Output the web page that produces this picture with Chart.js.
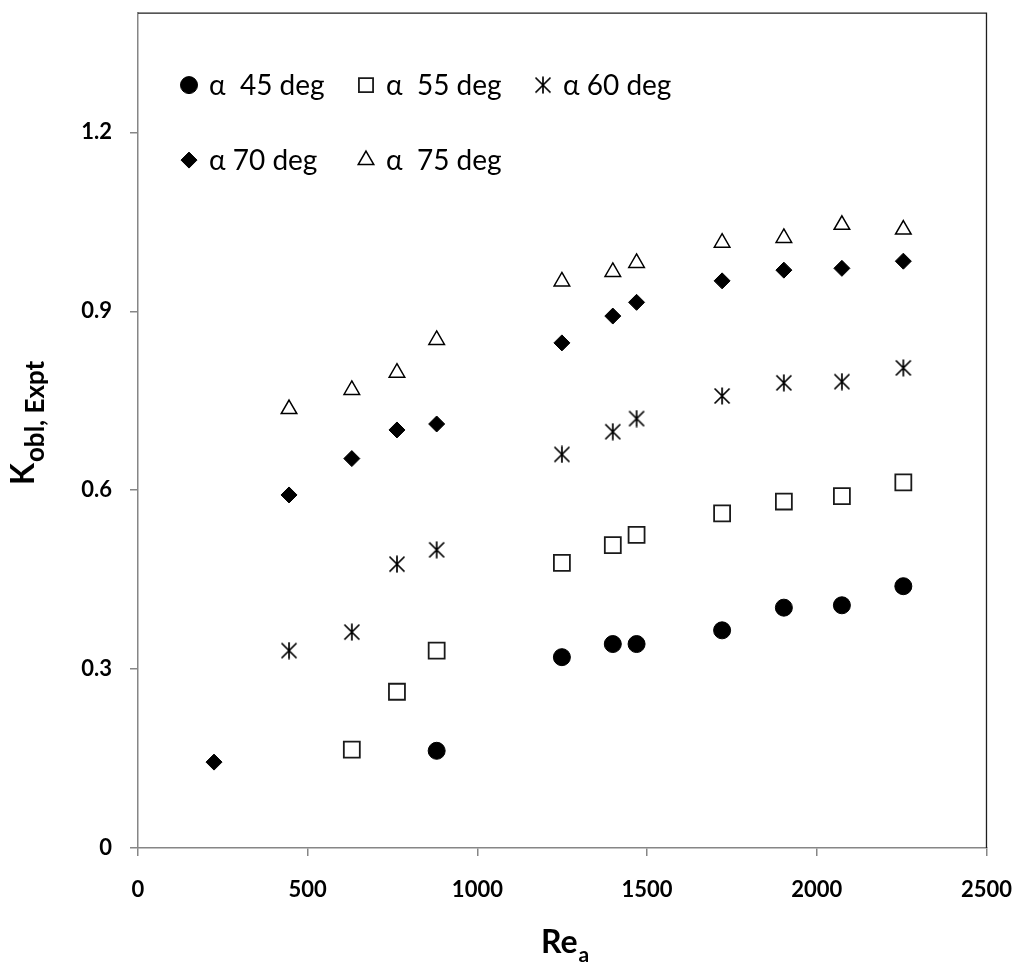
<!DOCTYPE html>
<html>
<head>
<meta charset="utf-8">
<script src="https://cdn.jsdelivr.net/npm/chart.js@4/dist/chart.umd.min.js"></script>
<style>
  html, body { margin: 0; padding: 0; background: #ffffff; }
  #c { display: block; }
</style>
</head>
<body>
<canvas id="c" width="1033" height="972"></canvas>
<script>
// Reynolds numbers shared by all inclination series
const reynolds = [224, 445, 630, 763, 880, 1249, 1399, 1469, 1721, 1903, 2074, 2255];

// Experimental K_obl for each inclination angle (null = not measured)
const k45 = [null, null, null, null, 0.163, 0.320, 0.342, 0.342, 0.365, 0.403, 0.407, 0.439];
const k55 = [null, null, 0.165, 0.262, 0.331, 0.478, 0.508, 0.525, 0.561, 0.581, 0.590, 0.613];
const k60 = [null, 0.331, 0.362, 0.476, 0.500, 0.660, 0.698, 0.720, 0.758, 0.780, 0.782, 0.805];
const k70 = [0.144, 0.592, 0.653, 0.701, 0.711, 0.847, 0.892, 0.915, 0.951, 0.969, 0.972, 0.984];
const k75 = [null, 0.736, 0.768, 0.797, 0.852, 0.950, 0.966, 0.981, 1.015, 1.023, 1.045, 1.037];

const seriesLabels = ['α  45 deg', 'α  55 deg', 'α 60 deg', 'α 70 deg', 'α  75 deg'];

const xTicks = [0, 500, 1000, 1500, 2000, 2500];
const yTicks = [0, 0.3, 0.6, 0.9, 1.2];

const FONT = 'Lato, "Open Sans", sans-serif';
const AXIS_GREY = '#868686';

// Six-armed asterisk marker (vertical bar plus an X)
function asteriskMarker(size, lw) {
  const c = document.createElement('canvas');
  c.width = size; c.height = size;
  const g = c.getContext('2d');
  g.strokeStyle = '#000';
  g.lineWidth = lw;
  g.lineCap = 'butt';
  const m = size / 2, r = size / 2 - 1;
  g.beginPath();
  g.moveTo(m, m - r - 0.5); g.lineTo(m, m + r + 0.5);
  g.moveTo(m - r + 0.5, m - r + 0.5); g.lineTo(m + r - 0.5, m + r - 0.5);
  g.moveTo(m + r - 0.5, m - r + 0.5); g.lineTo(m - r + 0.5, m + r - 0.5);
  g.stroke();
  return c;
}
const asterisk = asteriskMarker(18, 1.7);

function points(ys) {
  return reynolds.map((x, i) => ({ x: x, y: ys[i] })).filter(p => p.y !== null);
}

const markerStyles = [
  { pointStyle: 'circle',   pointRadius: 8.5, pointBackgroundColor: '#000', pointBorderColor: '#000', pointBorderWidth: 1 },
  { pointStyle: 'rect',     pointRadius: 11.3, pointBackgroundColor: '#fff', pointBorderColor: '#1a1a1a', pointBorderWidth: 1.8 },
  { pointStyle: asterisk,   pointRadius: 9,  pointBackgroundColor: '#000', pointBorderColor: '#000', pointBorderWidth: 0 },
  { pointStyle: 'rectRot',  pointRadius: 8,  pointBackgroundColor: '#000', pointBorderColor: '#000', pointBorderWidth: 1 },
  { pointStyle: 'triangle', pointRadius: 9,  pointBackgroundColor: '#fff', pointBorderColor: '#000', pointBorderWidth: 1.5 }
];

const seriesValues = [k45, k55, k60, k70, k75];

const datasets = seriesValues.map((ys, i) => Object.assign({
  label: seriesLabels[i],
  data: points(ys),
  showLine: false
}, markerStyles[i]));

// Top and right frame lines of the plot box
const frame = {
  id: 'frame',
  afterDraw(chart) {
    const { ctx, chartArea: a } = chart;
    ctx.save();
    ctx.strokeStyle = '#1e1e1e';
    ctx.lineWidth = 1.3;
    ctx.beginPath();
    ctx.moveTo(a.left, a.top);
    ctx.lineTo(a.right, a.top);
    ctx.lineTo(a.right, a.bottom);
    ctx.stroke();
    ctx.restore();
  }
};

// Two-row legend inside the plot area
const insideLegend = {
  id: 'insideLegend',
  afterDraw(chart) {
    const { ctx, chartArea: a } = chart;
    const cols = [51, 228, 405];
    const rows = [72, 147];
    const slots = [[0, 0], [0, 1], [0, 2], [1, 0], [1, 1]];
    ctx.save();
    chart.data.datasets.forEach((ds, i) => {
      const [r, c] = slots[i];
      const x = a.left + cols[c];
      const y = a.top + rows[r];
      ctx.fillStyle = ds.pointBackgroundColor;
      ctx.strokeStyle = ds.pointBorderColor;
      ctx.lineWidth = ds.pointBorderWidth;
      Chart.helpers.drawPoint(ctx, {
        pointStyle: ds.pointStyle,
        radius: ds.pointStyle === 'rect' ? 10 : ds.pointRadius,
        rotation: 0,
        borderWidth: ds.pointBorderWidth
      }, x, y);
      ctx.fillStyle = '#000';
      ctx.font = '28px ' + FONT;
      ctx.textBaseline = 'alphabetic';
      ctx.textAlign = 'left';
      ctx.fillText(ds.label, x + 20, y + 10);
    });
    ctx.restore();
  }
};

// Axis titles with subscripts
const axisTitles = {
  id: 'axisTitles',
  afterDraw(chart) {
    const { ctx } = chart;
    ctx.save();
    ctx.fillStyle = '#000';
    ctx.textAlign = 'left';
    ctx.textBaseline = 'alphabetic';

    // x title: Re_a
    ctx.font = 'bold 32px ' + FONT;
    ctx.fillText('Re', 541, 953);
    const wMain = ctx.measureText('Re').width;
    ctx.font = 'bold 21px ' + FONT;
    ctx.fillText('a', 541 + wMain + 1, 962);

    // y title: K_obl, Expt
    ctx.translate(34, 485);
    ctx.rotate(-Math.PI / 2);
    ctx.font = 'bold 32px ' + FONT;
    ctx.fillText('K', 0, 0);
    const wK = ctx.measureText('K').width;
    ctx.font = 'bold 26px ' + FONT;
    ctx.fillText('obl, Expt', wK + 1, 10);
    ctx.restore();
  }
};

const tickFont = { family: FONT, size: 22, weight: 'bold' };

new Chart(document.getElementById('c'), {
  type: 'scatter',
  data: { datasets: datasets },
  options: {
    responsive: false,
    animation: false,
    events: [],
    layout: { padding: { top: 10, right: 46, left: 0, bottom: 0 } },
    plugins: {
      legend: { display: false },
      tooltip: { enabled: false }
    },
    scales: {
      x: {
        type: 'linear',
        min: 0,
        max: 2500,
        afterBuildTicks: s => { s.ticks = xTicks.map(v => ({ value: v })); },
        afterFit: s => { s.height = 124; },
        ticks: {
          font: tickFont,
          color: '#000',
          padding: 21,
          maxRotation: 0,
          autoSkip: false,
          callback: v => String(v)
        },
        grid: {
          display: true,
          drawOnChartArea: false,
          drawTicks: true,
          tickLength: 8,
          color: AXIS_GREY,
          lineWidth: 1.5
        },
        border: { display: true, color: AXIS_GREY, width: 1.5 }
      },
      y: {
        type: 'linear',
        min: 0,
        max: 1.4,
        afterBuildTicks: s => { s.ticks = yTicks.map(v => ({ value: v })); },
        afterFit: s => { s.width = 138; s.paddingTop = 0; s.paddingBottom = 0; },
        ticks: {
          font: tickFont,
          color: '#000',
          padding: 18,
          autoSkip: false,
          callback: v => String(v)
        },
        grid: {
          display: true,
          drawOnChartArea: false,
          drawTicks: true,
          tickLength: 8,
          color: AXIS_GREY,
          lineWidth: 1.5
        },
        border: { display: true, color: AXIS_GREY, width: 1.5 }
      }
    }
  },
  plugins: [frame, insideLegend, axisTitles]
});
</script>
</body>
</html>
